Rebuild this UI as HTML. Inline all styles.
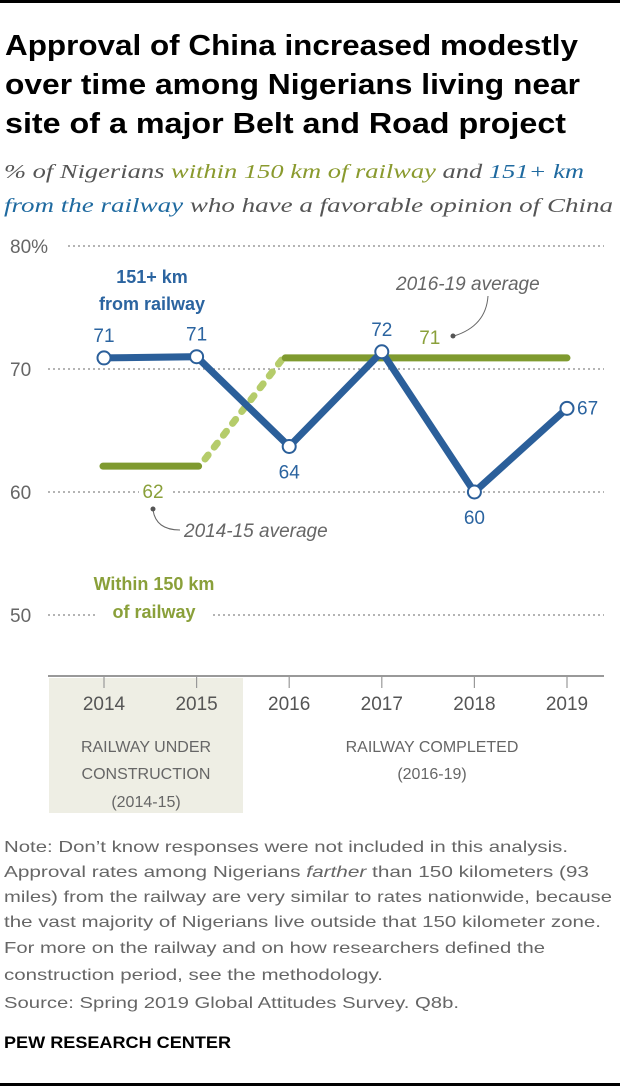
<!DOCTYPE html>
<html><head><meta charset="utf-8"><style>
html,body{margin:0;padding:0;background:#fff;}
svg{display:block;font-family:"Liberation Sans",sans-serif;}
</style></head><body>
<svg id="chart" width="620" height="1088" viewBox="0 0 620 1088">
<rect x="0" y="0" width="620" height="3" fill="#000"/>
<g font-weight="bold" font-size="29" fill="#000">
<text x="5" y="55" textLength="573" lengthAdjust="spacingAndGlyphs">Approval of China increased modestly</text>
<text x="5" y="94" textLength="575" lengthAdjust="spacingAndGlyphs">over time among Nigerians living near</text>
<text x="5" y="133" textLength="561" lengthAdjust="spacingAndGlyphs">site of a major Belt and Road project</text>
</g>
<g font-family="Liberation Serif, serif" font-style="italic" font-size="20" fill="#555">
<text x="4" y="178" textLength="580" lengthAdjust="spacingAndGlyphs">% of Nigerians <tspan fill="#8a9a2e">within 150 km of railway</tspan> and <tspan fill="#1f6aa0">151+ km</tspan></text>
<text x="4" y="212" textLength="609" lengthAdjust="spacingAndGlyphs"><tspan fill="#1f6aa0">from the railway</tspan> who have a favorable opinion of China</text>
</g>
<rect x="49" y="678" width="194" height="135" fill="#eeeee4"/>
<g id="grid"></g>
<g id="plot"></g>
<g>
<text x="152" y="283" text-anchor="middle" font-weight="bold" font-size="18" fill="#2b64a0">151+ km</text>
<text x="152" y="310" text-anchor="middle" font-weight="bold" font-size="18" fill="#2b64a0">from railway</text>
<rect x="95" y="568" width="118" height="56" fill="#fff"/>
<text x="154" y="590" text-anchor="middle" font-weight="bold" font-size="18" fill="#8aa03a">Within 150 km</text>
<text x="154" y="618" text-anchor="middle" font-weight="bold" font-size="18" fill="#8aa03a">of railway</text>
<text x="396" y="290" font-style="italic" font-size="19" fill="#666">2016-19 average</text>
<path d="M488,296 Q486,326 454,336" fill="none" stroke="#666" stroke-width="1"/>
<circle cx="453" cy="336" r="2.5" fill="#555"/>
<text x="184" y="537" font-style="italic" font-size="19" fill="#666">2014-15 average</text>
<path d="M153,510 Q156,530 180,530" fill="none" stroke="#666" stroke-width="1"/>
<circle cx="153" cy="509" r="2.5" fill="#555"/>
</g>
<g id="xaxis"></g>
<g font-size="16" fill="#666" text-anchor="middle">
<text x="146" y="752">RAILWAY UNDER</text>
<text x="146" y="779">CONSTRUCTION</text>
<text x="146" y="807">(2014-15)</text>
<text x="432" y="752">RAILWAY COMPLETED</text>
<text x="432" y="779">(2016-19)</text>
</g>
<g font-size="16" fill="#666">
<text x="4" y="852" textLength="564" lengthAdjust="spacingAndGlyphs">Note: Don’t know responses were not included in this analysis.</text>
<text x="4" y="877" textLength="585" lengthAdjust="spacingAndGlyphs">Approval rates among Nigerians <tspan font-style="italic">farther</tspan> than 150 kilometers (93</text>
<text x="4" y="902" textLength="608" lengthAdjust="spacingAndGlyphs">miles) from the railway are very similar to rates nationwide, because</text>
<text x="4" y="927" textLength="597" lengthAdjust="spacingAndGlyphs">the vast majority of Nigerians live outside that 150 kilometer zone.</text>
<text x="4" y="953" textLength="541" lengthAdjust="spacingAndGlyphs">For more on the railway and on how researchers defined the</text>
<text x="4" y="980" textLength="379" lengthAdjust="spacingAndGlyphs">construction period, see the methodology.</text>
<text x="4" y="1008" textLength="455" lengthAdjust="spacingAndGlyphs">Source: Spring 2019 Global Attitudes Survey. Q8b.</text>
</g>
<text x="4" y="1048" font-weight="bold" font-size="17" fill="#000" textLength="227" lengthAdjust="spacingAndGlyphs">PEW RESEARCH CENTER</text>
<rect x="0" y="1083" width="620" height="3" fill="#000"/>
</svg>
<script>
const years = ["2014","2015","2016","2017","2018","2019"];
const farValues = [70.9, 71.0, 63.7, 71.4, 60.0, 66.8];
const farLabels = ["71","71","64","72","60","67"];
const nearAvgEarly = 62.1;
const nearAvgLate = 70.9;
const nearAvgEarlyLabel = "62";
const nearAvgLateLabel = "71";
const yTicks = [80, 70, 60, 50];
const yTickLabels = ["80%","70","60","50"];

const NS = "http://www.w3.org/2000/svg";
const X = i => 104 + i * 92.6;
const Y = v => 369 - (v - 70) * 12.3;
function mk(tag, attrs, parent, txt){
  const e = document.createElementNS(NS, tag);
  for (const k in attrs) e.setAttribute(k, attrs[k]);
  if (txt !== undefined) e.textContent = txt;
  parent.appendChild(e); return e;
}
const grid = document.getElementById('grid');
const plot = document.getElementById('plot');
const xaxis = document.getElementById('xaxis');
yTicks.forEach((t, i) => {
  const x0 = i === 0 ? 68 : 48;
  const ln = mk('line', {x1:x0, x2:604, y1:Y(t), y2:Y(t), stroke:'#888', 'stroke-width':1.3, 'stroke-dasharray':'2 3'}, grid);
  
  
  const lb = mk('text', {x:10, y:Y(t)+7, 'font-size':19, fill:'#666'}, grid, yTickLabels[i]);
  
  
});
const g1 = mk('line', {x1:X(0)-1, x2:X(1)+2, y1:Y(nearAvgEarly), y2:Y(nearAvgEarly), stroke:'#7f9a2f', 'stroke-width':7, 'stroke-linecap':'round'}, plot);


const gd = mk('line', {x1:X(1)+6, y1:Y(nearAvgEarly)-4, x2:X(2)-6, y2:Y(nearAvgLate), stroke:'#b5cc6a', 'stroke-width':7, 'stroke-linecap':'round', 'stroke-dasharray':'5 10', 'stroke-dashoffset':'-4'}, plot);


const g2 = mk('line', {x1:X(2)-4, x2:X(5), y1:Y(nearAvgLate), y2:Y(nearAvgLate), stroke:'#7f9a2f', 'stroke-width':7, 'stroke-linecap':'round'}, plot);


const m62 = mk('rect', {x:X(0)+35, y:Y(nearAvgEarly)+16, width:32, height:24, fill:'#fff'}, plot);
const t62 = mk('text', {x:X(0)+49, y:Y(nearAvgEarly)+32, 'text-anchor':'middle', 'font-size':19, fill:'#8aa03a'}, plot, nearAvgEarlyLabel);


const t71 = mk('text', {x:X(3)+48, y:Y(nearAvgLate)-14, 'text-anchor':'middle', 'font-size':19, fill:'#8aa03a'}, plot, nearAvgLateLabel);


const pts = farValues.map((v,i)=>X(i)+','+Y(v)).join(' ');
const pl = mk('polyline', {points:pts, fill:'none', stroke:'#2b5f9a', 'stroke-width':7, 'stroke-linejoin':'miter'}, plot);


farValues.forEach((v,i)=>{
  const c = mk('circle', {cx:X(i), cy:Y(v), r:6.5, fill:'#fff', stroke:'#2b5f9a', 'stroke-width':2}, plot);
  
  
  const prev = i>0 ? farValues[i-1] : v, next = i<farValues.length-1 ? farValues[i+1] : v;
  let lx = X(i), ly, anchor = 'middle';
  if (i === farValues.length-1) { lx = X(i)+10; ly = Y(v)+6; anchor = 'start'; }
  else if (v < prev && v < next) { ly = Y(v)+32; mk('rect',{x:X(i)-16,y:Y(v)+14,width:32,height:24,fill:'#fff'},plot,undefined); plot.appendChild(c); }
  else ly = Y(v)-16;
  const t = mk('text', {x:lx, y:ly, 'text-anchor':anchor, 'font-size':19, fill:'#2b64a0'}, plot, farLabels[i]);
  
  
});
const ax = mk('line', {x1:48, x2:604, y1:676, y2:676, stroke:'#999', 'stroke-width':2}, xaxis);


years.forEach((y,i)=>{
  mk('line', {x1:X(i), x2:X(i), y1:676, y2:688, stroke:'#999', 'stroke-width':1.2}, xaxis);
  const t = mk('text', {x:X(i), y:710, 'text-anchor':'middle', 'font-size':19, fill:'#555'}, xaxis, y);
  
  
});
</script>
</body></html>
